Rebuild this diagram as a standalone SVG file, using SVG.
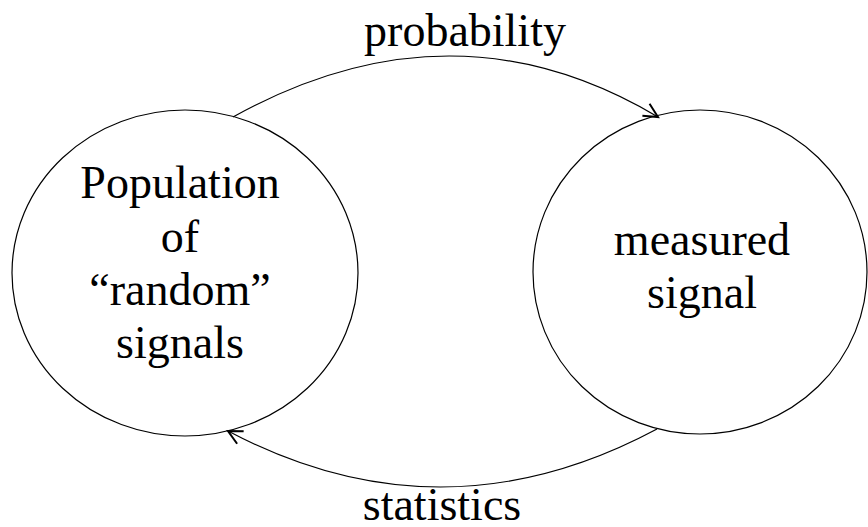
<svg xmlns="http://www.w3.org/2000/svg" width="868" height="527" viewBox="0 0 868 527">
<style>
.node{fill:#fff;stroke:#000;stroke-width:1.2}
.lbl{font-family:'Liberation Serif','DejaVu Serif',serif;font-size:46px;fill:#000;text-anchor:middle}
.edge{fill:none;stroke:#000;stroke-width:1.2}
</style>
<defs>
<marker id="arr" markerWidth="20" markerHeight="20" refX="16" refY="8" orient="auto" markerUnits="userSpaceOnUse">
<path d="M2,1 L16,8 L2,15" fill="none" stroke="#000" stroke-width="2"/>
</marker>
</defs>
<rect width="868" height="527" fill="#fff"/>
<g id="population">
<ellipse class="node" cx="185" cy="273" rx="173" ry="163"/>
<text class="lbl" x="180" y="198">Population</text>
<text class="lbl" x="180" y="252">of</text>
<text class="lbl" x="180" y="305">“random”</text>
<text class="lbl" x="180" y="358">signals</text>
</g>
<g id="measured">
<ellipse class="node" cx="700" cy="272" rx="167" ry="162"/>
<text class="lbl" x="702" y="255">measured</text>
<text class="lbl" x="702" y="308">signal</text>
</g>
<g id="connectors">
<path class="edge" d="M233,117 Q453,-5 658,117" marker-end="url(#arr)"/>
<text class="lbl" x="465" y="46">probability</text>
<path class="edge" d="M657,429 Q442,544 228,431" marker-end="url(#arr)"/>
<text class="lbl" x="442" y="520">statistics</text>
</g>
</svg>
